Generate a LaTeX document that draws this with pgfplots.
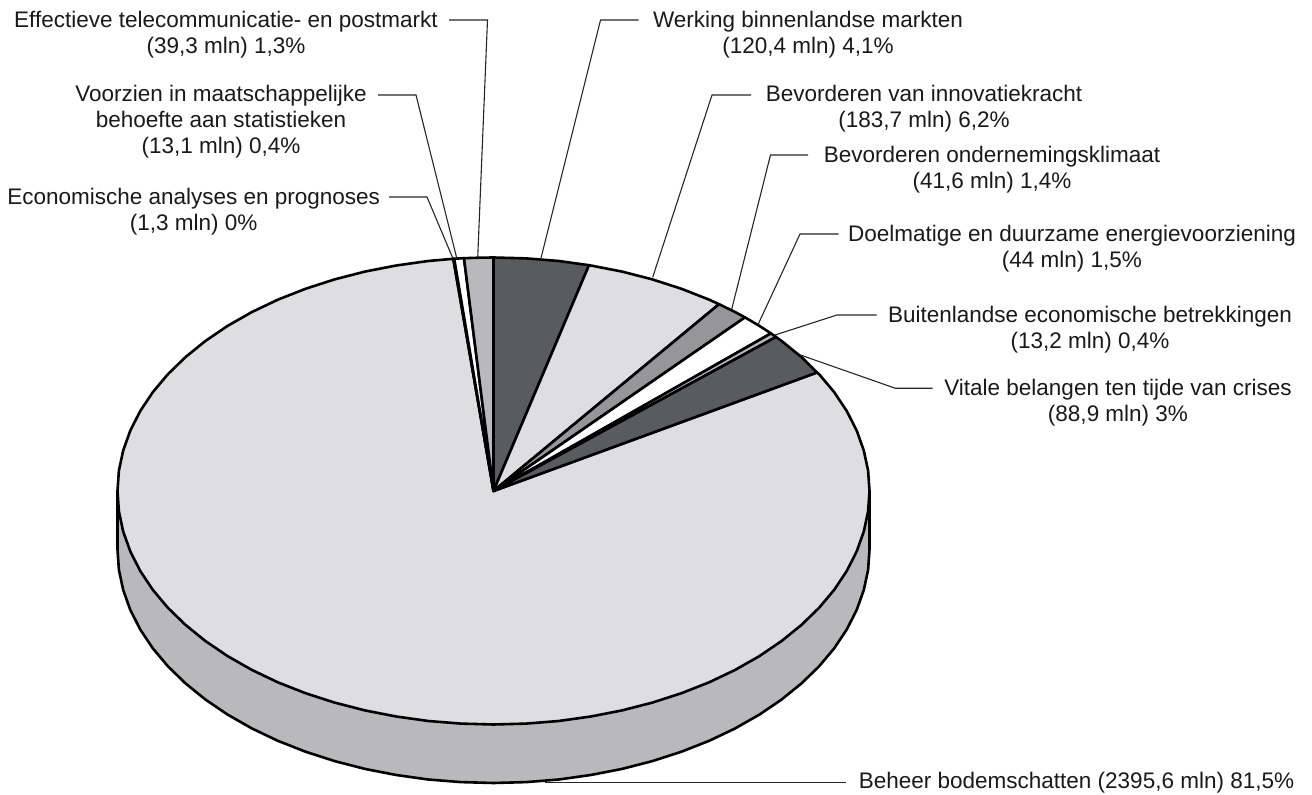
\documentclass[border=0pt]{standalone}
\usepackage{pgfplots}
\pgfplotsset{compat=1.18}
\usepackage{fontspec}
\setmainfont{Liberation Sans}
\definecolor{lg}{HTML}{DEDEE0}
\definecolor{sd}{HTML}{B9B9BB}
\definecolor{dk}{HTML}{5A5B5D}
\definecolor{md}{HTML}{969698}
\tikzset{
  wedge/.style={draw=black, line width=1.3pt, line join=round},
  lead/.style={draw=black!85, line width=0.55pt, line join=miter},
  lab/.style={font=\fontsize{11.25}{13}\selectfont, align=center, anchor=center, inner sep=0pt, text=black!90}
}
\begin{document}
\begin{tikzpicture}
\useasboundingbox (0,0) rectangle (656pt,397.5pt);
\begin{axis}[
  at={(0,0)}, anchor=south west,
  scale only axis, width=656pt, height=397.5pt,
  xmin=0, xmax=1312, ymin=0, ymax=795, y dir=reverse,
  hide axis, clip=false,
  every axis plot/.append style={mark=none}
]
% side
\addplot[wedge, fill=sd] coordinates {
(869.5,491)(869.5,549.5)(868.1,569.9)(863.8,590.0)(856.7,609.9)(846.8,629.4)(834.3,648.2)(819.1,666.3)(801.5,683.4)(781.5,699.6)(759.4,714.6)(735.2,728.4)(709.2,740.8)(681.5,751.7)(652.4,761.1)(622.1,768.9)(590.8,775.0)(558.8,779.5)(526.3,782.1)(493.5,783.0)
(460.7,782.1)(428.2,779.5)(396.2,775.0)(364.9,768.9)(334.6,761.1)(305.5,751.7)(277.8,740.8)(251.8,728.4)(227.6,714.6)(205.5,699.6)(185.5,683.4)(167.9,666.3)(152.7,648.2)(140.2,629.4)(130.3,609.9)(123.2,590.0)(118.9,569.9)(117.5,549.5)(117.5,491)
} -- cycle;
% Beheer bodemschatten
\addplot[wedge, fill=lg] coordinates {
(493.5,491)(817,372.5)(819.1,374.2)(834.3,392.3)(846.8,411.1)(856.7,430.6)(863.8,450.5)(868.1,470.6)(869.5,491)(868.1,511.4)(863.8,531.5)(856.7,551.4)(846.8,570.9)(834.3,589.7)(819.1,607.8)(801.5,624.9)(781.5,641.1)(759.4,656.1)(735.2,669.9)(709.2,682.3)(681.5,693.2)(652.4,702.6)(622.1,710.4)(590.8,716.5)(558.8,721.0)(526.3,723.6)(493.5,724.5)
(460.7,723.6)(428.2,721.0)(396.2,716.5)(364.9,710.4)(334.6,702.6)(305.5,693.2)(277.8,682.3)(251.8,669.9)(227.6,656.1)(205.5,641.1)(185.5,624.9)(167.9,607.8)(152.7,589.7)(140.2,570.9)(130.3,551.4)(123.2,531.5)(118.9,511.4)(117.5,491)(118.9,470.6)(123.2,450.5)(130.3,430.6)(140.2,411.1)(152.7,392.3)(167.9,374.2)(185.5,357.1)(205.5,340.9)(227.6,325.9)(251.8,312.1)(277.8,299.7)(305.5,288.8)(334.6,279.4)(364.9,271.6)(396.2,265.5)(428.2,261.0)(453.3,258.8)
} -- cycle;
% Economische analyses
\addplot[wedge, fill=white] coordinates {(493.5,491)(453.3,258.8)(454.2,258.7)} -- cycle;
% Voorzien
\addplot[wedge, fill=white] coordinates {(493.5,491)(454.2,258.7)(460.7,258.4)(464,258.2)} -- cycle;
% Effectieve
\addplot[wedge, fill=sd] coordinates {(493.5,491)(464,258.2)(479,257.7)(493.5,257.5)} -- cycle;
% Werking
\addplot[wedge, fill=dk] coordinates {(493.5,491)(493.5,257.5)(526.3,258.4)(558.8,261.0)(589,265.2)} -- cycle;
% Innovatie
\addplot[wedge, fill=lg] coordinates {(493.5,491)(589,265.2)(590.8,265.5)(622.1,271.6)(652.4,279.4)(681.5,288.8)(709.2,299.7)(719,304.2)} -- cycle;
% Ondernemingsklimaat
\addplot[wedge, fill=md] coordinates {(493.5,491)(719,304.2)(735.2,312.1)(745,317.4)} -- cycle;
% Energie
\addplot[wedge, fill=white] coordinates {(493.5,491)(745,317.4)(759.4,325.9)(771,333.4)} -- cycle;
% Buitenlandse
\addplot[wedge, fill=sd] coordinates {(493.5,491)(771,333.4)(776,337)} -- cycle;
% Vitale
\addplot[wedge, fill=dk] coordinates {(493.5,491)(776,337)(781.5,340.9)(801.5,357.1)(817,372.5)} -- cycle;
% leaders
\addplot[lead] coordinates {(449,20)(487.5,20)(477.7,258)};
\addplot[lead] coordinates {(378,95)(416,95)(456.7,258)};
\addplot[lead] coordinates {(389,197)(427,197)(452.7,258)};
\addplot[lead] coordinates {(638.6,20)(600.5,20)(541,258)};
\addplot[lead] coordinates {(751,95)(712,95)(652.7,277.3)};
\addplot[lead] coordinates {(808,155)(770.5,155)(731.7,309.3)};
\addplot[lead] coordinates {(838.6,234)(800,234)(758.3,324)};
\addplot[lead] coordinates {(876.7,315)(837,315)(775,335)};
\addplot[lead] coordinates {(800.4,355)(895.4,388.3)(932.7,388.3)};
\addplot[lead] coordinates {(545,782.7)(846,782.7)};
% labels
\node[lab] at (axis cs:226,35) {Effectieve telecommunicatie- en postmarkt\\(39,3 mln) 1,3\%};
\node[lab] at (axis cs:221,122) {Voorzien in maatschappelijke\\behoefte aan statistieken\\(13,1 mln) 0,4\%};
\node[lab] at (axis cs:193.7,212) {Economische analyses en prognoses\\(1,3 mln) 0\%};
\node[lab] at (axis cs:808,35) {Werking binnenlandse markten\\(120,4 mln) 4,1\%};
\node[lab] at (axis cs:924,109) {Bevorderen van innovatiekracht\\(183,7 mln) 6,2\%};
\node[lab] at (axis cs:992,170) {Bevorderen ondernemingsklimaat\\(41,6 mln) 1,4\%};
\node[lab] at (axis cs:1072,249) {Doelmatige en duurzame energievoorziening\\(44 mln) 1,5\%};
\node[lab] at (axis cs:1090,330) {Buitenlandse economische betrekkingen\\(13,2 mln) 0,4\%};
\node[lab] at (axis cs:1118,403) {Vitale belangen ten tijde van crises\\(88,9 mln) 3\%};
\node[lab] at (axis cs:1076.5,783) {Beheer bodemschatten (2395,6 mln) 81,5\%};
\end{axis}
\end{tikzpicture}
\end{document}
